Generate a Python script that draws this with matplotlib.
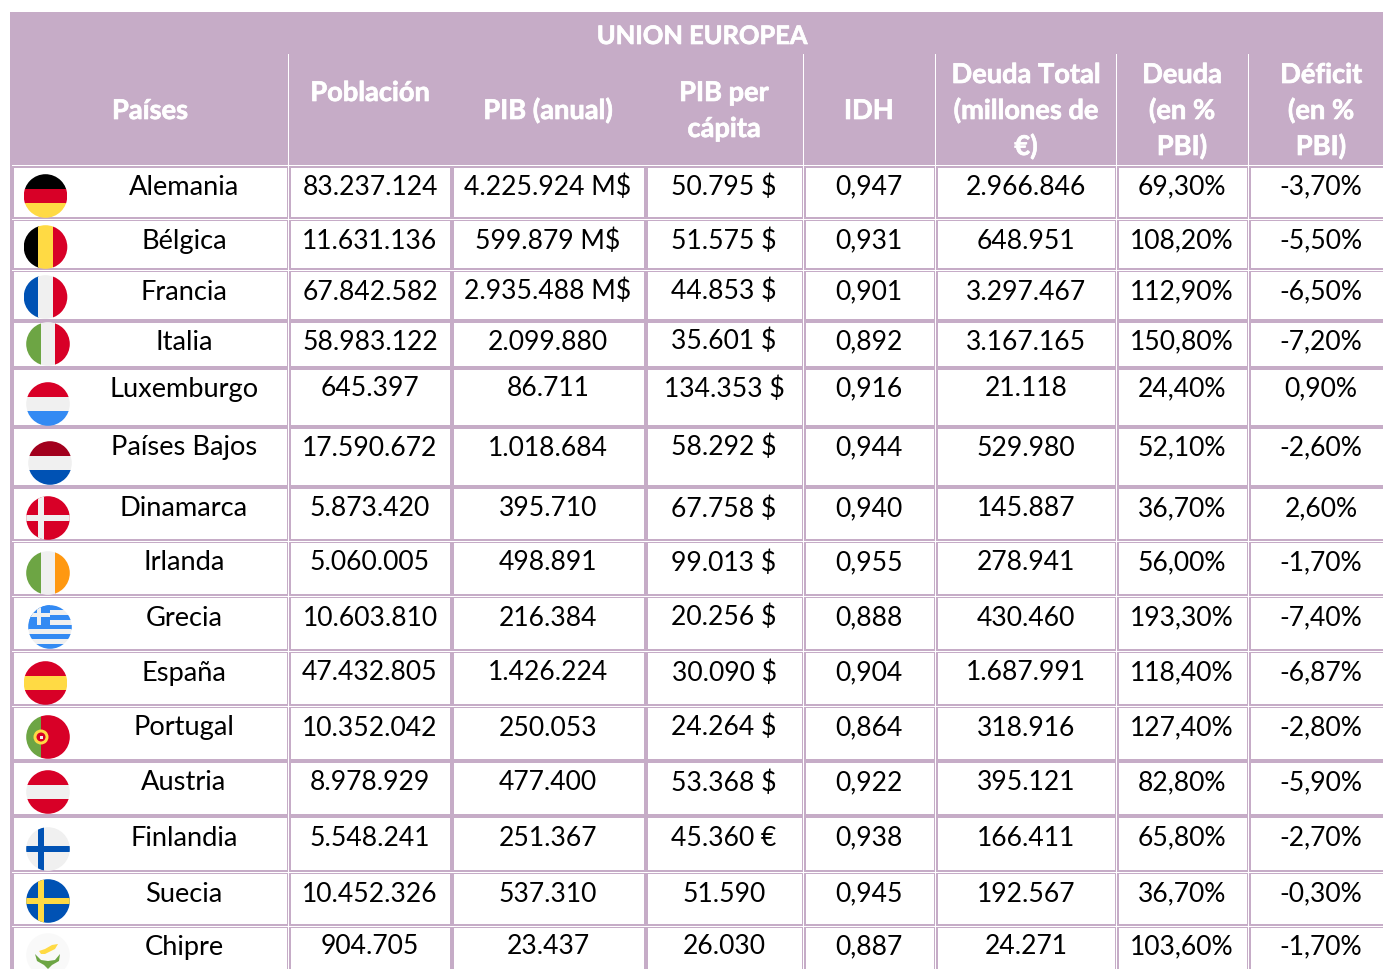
import matplotlib
matplotlib.use("Agg")
import matplotlib.pyplot as plt
import matplotlib.patheffects as pe
from matplotlib.patches import Rectangle, Circle, Polygon

plt.rcParams['font.family'] = ['Lato', 'DejaVu Sans']

# datos de la tabla
titulo = "UNION EUROPEA"
encabezados = ["Países", "Población", "PIB (anual)", "PIB per\ncápita", "IDH",
               "Deuda Total\n(millones de\n€)", "Deuda\n(en %\nPBI)", "Déficit\n(en %\nPBI)"]
paises = ["Alemania", "Bélgica", "Francia", "Italia", "Luxemburgo", "Países Bajos",
          "Dinamarca", "Irlanda", "Grecia", "España", "Portugal", "Austria",
          "Finlandia", "Suecia", "Chipre"]
poblacion = ["83.237.124", "11.631.136", "67.842.582", "58.983.122", "645.397",
             "17.590.672", "5.873.420", "5.060.005", "10.603.810", "47.432.805",
             "10.352.042", "8.978.929", "5.548.241", "10.452.326", "904.705"]
pib = ["4.225.924 M$", "599.879 M$", "2.935.488 M$", "2.099.880", "86.711",
       "1.018.684", "395.710", "498.891", "216.384", "1.426.224",
       "250.053", "477.400", "251.367", "537.310", "23.437"]
pib_pc = ["50.795 $", "51.575 $", "44.853 $", "35.601 $", "134.353 $",
          "58.292 $", "67.758 $", "99.013 $", "20.256 $", "30.090 $",
          "24.264 $", "53.368 $", "45.360 €", "51.590", "26.030"]
idh = ["0,947", "0,931", "0,901", "0,892", "0,916", "0,944", "0,940", "0,955",
       "0,888", "0,904", "0,864", "0,922", "0,938", "0,945", "0,887"]
deuda_total = ["2.966.846", "648.951", "3.297.467", "3.167.165", "21.118",
               "529.980", "145.887", "278.941", "430.460", "1.687.991",
               "318.916", "395.121", "166.411", "192.567", "24.271"]
deuda_pct = ["69,30%", "108,20%", "112,90%", "150,80%", "24,40%", "52,10%",
             "36,70%", "56,00%", "193,30%", "118,40%", "127,40%", "82,80%",
             "65,80%", "36,70%", "103,60%"]
deficit = ["-3,70%", "-5,50%", "-6,50%", "-7,20%", "0,90%", "-2,60%", "2,60%",
           "-1,70%", "-7,40%", "-6,87%", "-2,80%", "-5,90%", "-2,70%", "-0,30%",
           "-1,70%"]
columnas = [poblacion, pib, pib_pc, idh, deuda_total, deuda_pct, deficit]

# geometría en píxeles de la imagen
W, H = 1383, 969
LILA = '#c6acc7'
bordes_x = [12, 288.5, 452, 646, 803.5, 935.5, 1116.5, 1248.5, 1387]
lineas_blancas_x = [288.5, 803.5, 935.5, 1116.5, 1248.5]
centros_x = [184, 370, 548, 724, 869, 1026, 1182, 1321]
filas = [(167.5, 217), (221, 268), (272, 319), (323, 366), (370, 425), (429, 485),
         (489, 539), (543, 594), (598, 649), (653, 704), (708, 759), (763, 814),
         (818, 870), (874, 924), (928, 975)]
lineas_blancas_y = [219, 270, 541, 596, 651, 706, 872, 926]
base_y = [194.5, 248.5, 299.5, 349.5, 396.5, 455.5, 516.5, 570.5, 625.5, 680.5,
          735.5, 790.5, 845.5, 901.5, 954.5]
centro_bandera = [(45.5, 196), (45.5, 247), (45.5, 297), (48, 344), (48, 404), (50, 463),
                  (48, 518), (48, 573), (50, 627), (45.5, 683), (48, 737), (48, 792),
                  (48, 849), (48, 901), (48, 955)]
R = 21.8

ROJO, AMAR, AZUL, VERDE, BLANCO = '#d80027', '#ffda44', '#0052b4', '#6da544', '#f0f0f0'

fig = plt.figure(figsize=(W / 100, H / 100), dpi=100)
ax = fig.add_axes([0, 0, 1, 1])
ax.set_xlim(0, W)
ax.set_ylim(H, 0)
ax.axis('off')


def rect(x0, y0, x1, y1, color, z=1):
    ax.add_patch(Rectangle((x0, y0), x1 - x0, y1 - y0, fc=color, ec='none', zorder=z))


def recortar(piezas, cx, cy):
    clip = Circle((cx, cy), R, transform=ax.transData)
    for p in piezas:
        ax.add_patch(p)
        p.set_clip_path(clip)


def bandas_h(cx, cy, colores):
    """Bandera circular con franjas horizontales."""
    h = 2 * R / len(colores)
    recortar([Rectangle((cx - R, cy - R + i * h), 2 * R, h + 0.3, fc=c, ec='none', zorder=3)
              for i, c in enumerate(colores)], cx, cy)


def bandas_v(cx, cy, colores):
    h = 2 * R / len(colores)
    recortar([Rectangle((cx - R + i * h, cy - R), h + 0.3, 2 * R, fc=c, ec='none', zorder=3)
              for i, c in enumerate(colores)], cx, cy)


def cruz(cx, cy, fondo, color, grosor=5.5):
    recortar([Rectangle((cx - R, cy - R), 2 * R, 2 * R, fc=fondo, ec='none', zorder=3),
              Rectangle((cx - R, cy - grosor / 2), 2 * R, grosor, fc=color, ec='none', zorder=4),
              Rectangle((cx - 7 - grosor / 2, cy - R), grosor, 2 * R, fc=color, ec='none', zorder=4)],
             cx, cy)


def grecia(cx, cy):
    bandas_h(cx, cy, ['#338af3', BLANCO] * 4 + ['#338af3'])
    recortar([Rectangle((cx - R, cy - R), 22, 20, fc='#338af3', ec='none', zorder=4),
              Rectangle((cx - R, cy - 14), 22, 4, fc=BLANCO, ec='none', zorder=5),
              Rectangle((cx - 13, cy - R), 4, 20, fc=BLANCO, ec='none', zorder=5)], cx, cy)


def portugal(cx, cy):
    recortar([Rectangle((cx - R, cy - R), 15, 2 * R, fc=VERDE, ec='none', zorder=3),
              Rectangle((cx - 7, cy - R), 30, 2 * R, fc=ROJO, ec='none', zorder=3)], cx, cy)
    ax.add_patch(Circle((cx - 7, cy), 7.5, fc=AMAR, ec='none', zorder=4))
    ax.add_patch(Circle((cx - 7, cy), 4.5, fc=ROJO, ec='none', zorder=5))
    ax.add_patch(Rectangle((cx - 8.5, cy - 1.5), 3, 3, fc=BLANCO, ec='none', zorder=6))


def chipre(cx, cy):
    ax.add_patch(Circle((cx, cy), R, fc='#f9f9f9', ec='none', zorder=3))
    ax.add_patch(Polygon([(cx - 9, cy - 4), (cx - 3, cy - 6), (cx + 4, cy - 10), (cx + 10, cy - 11),
                          (cx + 7, cy - 6), (cx + 1, cy - 3), (cx - 3, cy - 1), (cx - 7, cy - 1)],
                         fc=AMAR, ec='none', zorder=4))
    ax.add_patch(Polygon([(cx - 13, cy - 1), (cx - 7, cy + 5), (cx, cy + 6), (cx + 7, cy + 5),
                          (cx + 12, cy - 1), (cx + 11, cy + 6), (cx + 4, cy + 10), (cx, cy + 14),
                          (cx - 4, cy + 10), (cx - 11, cy + 6)],
                         fc=VERDE, ec='none', zorder=4))


# fondo lila y celdas blancas
rect(10, 12, W, H, LILA)
for y0, y1 in filas:
    for x0, x1 in zip(bordes_x[:-1], bordes_x[1:]):
        rect(x0 + 2, y0, x1 - 2, y1, 'white')

# líneas blancas finas
rect(12, 165, W, 166.2, 'white', z=2)
for y in lineas_blancas_y:
    rect(12, y - 0.4, W, y + 0.6, 'white', z=2)
for x in lineas_blancas_x:
    rect(x - 0.6, 54, x + 0.6, H, 'white', z=2)

# encabezado
bold = dict(color='white', fontweight='bold', ha='center', va='baseline',
            path_effects=[pe.withStroke(linewidth=0.5, foreground='white')])
ax.text(702, 44, titulo, fontsize=18.3, **bold)
enc_base = [119, 101, 119, 119, 119, 119, 119, 119]
enc_x = [150] + centros_x[1:]
for x, yb, t in zip(enc_x, enc_base, encabezados):
    lineas = t.split("\n")
    for k, lin in enumerate(lineas):
        ax.text(x, yb + (k - (len(lineas) - 1) / 2) * 36, lin, fontsize=19.6, **bold)

# cuerpo
for i, p in enumerate(paises):
    ax.text(centros_x[0], base_y[i], p, fontsize=19.6, ha='center', va='baseline', color='black')
    for j, col in enumerate(columnas):
        ax.text(centros_x[j + 1], base_y[i], col[i], fontsize=19.1, ha='center', va='baseline',
                color='black')

# banderas
b = dict(zip(paises, centro_bandera))
bandas_h(*b["Alemania"], ['#000000', ROJO, AMAR])
bandas_v(*b["Bélgica"], ['#000000', AMAR, ROJO])
bandas_v(*b["Francia"], [AZUL, BLANCO, ROJO])
bandas_v(*b["Italia"], [VERDE, BLANCO, ROJO])
bandas_h(*b["Luxemburgo"], [ROJO, BLANCO, '#338af3'])
bandas_h(*b["Países Bajos"], ['#a2001d', BLANCO, AZUL])
cruz(*b["Dinamarca"], ROJO, BLANCO)
bandas_v(*b["Irlanda"], [VERDE, BLANCO, '#ff9811'])
grecia(*b["Grecia"])
bandas_h(*b["España"], [ROJO, AMAR, ROJO])
portugal(*b["Portugal"])
bandas_h(*b["Austria"], [ROJO, BLANCO, ROJO])
cruz(*b["Finlandia"], BLANCO, AZUL)
cruz(*b["Suecia"], AZUL, AMAR)
chipre(*b["Chipre"])

fig.savefig("out.png", dpi=100, facecolor='white')
